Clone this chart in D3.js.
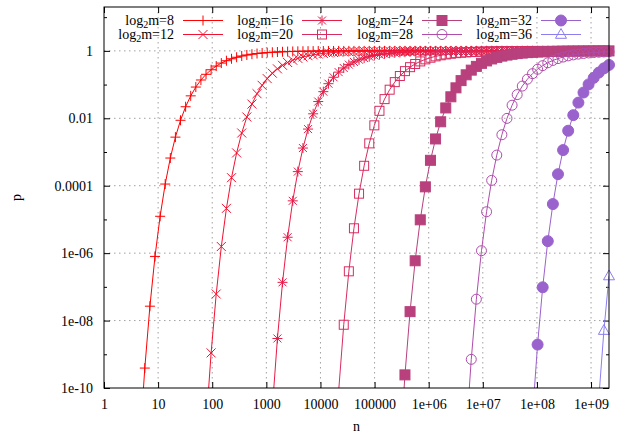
<!DOCTYPE html>
<html>
<head>
<meta charset="utf-8">
<script src="https://cdn.jsdelivr.net/npm/d3@7"></script>
<style>
  body { margin: 0; background: #fff; }
  svg { display: block; }
  svg text { font-family: "Liberation Serif", "Times New Roman", Times, serif; font-size: 14px; fill: #000; }
</style>
</head>
<body>
<svg id="chart" width="635" height="434"></svg>
<script>
// Sample grid of the number of inserted elements, as log2(n)
const log2N = [
  0, 0.3131, 0.6263, 0.9394, 1.2525, 1.5657, 1.8788, 2.1919, 2.5051, 2.8182,
  3.1313, 3.4444, 3.7576, 4.0707, 4.3838, 4.6970, 5.0101, 5.3232, 5.6364, 5.9495,
  6.2626, 6.5758, 6.8889, 7.2020, 7.5152, 7.8283, 8.1414, 8.4545, 8.7677, 9.0808,
  9.3939, 9.7071, 10.0202, 10.3333, 10.6465, 10.9596, 11.2727, 11.5859, 11.8990, 12.2121,
  12.5253, 12.8384, 13.1515, 13.4646, 13.7778, 14.0909, 14.4040, 14.7172, 15.0303, 15.3434,
  15.6566, 15.9697, 16.2828, 16.5960, 16.9091, 17.2222, 17.5354, 17.8485, 18.1616, 18.4747,
  18.7879, 19.1010, 19.4141, 19.7273, 20.0404, 20.3535, 20.6667, 20.9798, 21.2929, 21.6061,
  21.9192, 22.2323, 22.5455, 22.8586, 23.1717, 23.4848, 23.7980, 24.1111, 24.4242, 24.7374,
  25.0505, 25.3636, 25.6768, 25.9899, 26.3030, 26.6162, 26.9293, 27.2424, 27.5556, 27.8687,
  28.1818, 28.4949, 28.8081, 29.1212, 29.4343, 29.7475, 30.0606, 30.3737, 30.6869, 31
];

// Filter sizes (log2 m) and the first grid sample listed for each curve
const bits = [8, 12, 16, 20, 24, 28, 32, 36];
const firstSample = [7, 20, 33, 46, 58, 71, 84, 97];

// False-positive probability p for each filter size, from firstSample onward
const pM8 = [
  2.04e-12, 3.90e-10, 2.67e-8, 8.00e-7, 1.24e-5, 1.12e-4, 6.62e-4, 2.76e-3, 8.72e-3, 0.0220,
  0.0463, 0.0844, 0.1367, 0.2014, 0.2754, 0.3540, 0.4338, 0.5105, 0.5821, 0.6467,
  0.7042, 0.7541, 0.7967, 0.8329, 0.8632, 0.8883, 0.9091, 0.9261, 0.9401, 0.9515,
  0.9608, 0.9683, 0.9744, 0.9794, 0.9833, 0.9866, 0.9892, 0.9913, 0.9930, 0.9943,
  0.9954, 0.9963, 0.9970, 0.9976, 0.9981, 0.9985, 0.9988, 0.9990, 0.9992, 0.9994,
  0.9995, 1, 1, 1, 1, 1, 1, 1, 1, 1,
  1, 1, 1, 1, 1, 1, 1, 1, 1, 1,
  1, 1, 1, 1, 1, 1, 1, 1, 1, 1,
  1, 1, 1, 1, 1, 1, 1, 1, 1, 1,
  1, 1, 1
];
const pM12 = [
  7.36e-12, 1.10e-9, 6.14e-8, 1.57e-6, 2.13e-5, 1.73e-4, 9.40e-4, 3.66e-3, 0.01094, 0.02639,
  0.05365, 0.0949, 0.1503, 0.2176, 0.2929, 0.3722, 0.4513, 0.5270, 0.5973, 0.6604,
  0.7162, 0.7643, 0.8055, 0.8402, 0.8693, 0.8934, 0.9132, 0.9295, 0.9429, 0.9538,
  0.9626, 0.9698, 0.9756, 0.9803, 0.9841, 0.9872, 0.9897, 0.9917, 0.9933, 0.9946,
  0.9957, 0.9965, 0.9972, 0.9977, 0.9982, 0.9985, 0.9988, 0.9990, 0.9992, 0.9994,
  0.9995, 1, 1, 1, 1, 1, 1, 1, 1, 1,
  1, 1, 1, 1, 1, 1, 1, 1, 1, 1,
  1, 1, 1, 1, 1, 1, 1, 1, 1, 1
];
const pM16 = [
  2.51e-11, 2.94e-9, 1.36e-7, 2.96e-6, 3.56e-5, 2.62e-4, 1.31e-3, 4.79e-3, 0.01358, 0.03141,
  0.06171, 0.1062, 0.1646, 0.2340, 0.3106, 0.3903, 0.4689, 0.5435, 0.6121, 0.6737,
  0.7277, 0.7742, 0.8139, 0.8472, 0.8751, 0.8982, 0.9172, 0.9328, 0.9455, 0.9559,
  0.9644, 0.9712, 0.9768, 0.9813, 0.9849, 0.9878, 0.9902, 0.9921, 0.9936, 0.9949,
  0.9959, 0.9967, 0.9973, 0.9978, 0.9983, 0.9986, 0.9989, 0.9991, 0.9993, 0.9994,
  0.9995, 1, 1, 1, 1, 1, 1, 1, 1, 1,
  1, 1, 1, 1, 1, 1, 1
];
const pM20 = [
  8.07e-11, 7.52e-9, 2.89e-7, 5.46e-6, 5.81e-5, 3.90e-4, 1.80e-3, 6.18e-3, 0.01667, 0.03707,
  0.07049, 0.1183, 0.1794, 0.2507, 0.3285, 0.4082, 0.4862, 0.5596, 0.6268, 0.6865,
  0.7388, 0.7838, 0.8219, 0.8541, 0.8808, 0.9028, 0.9210, 0.9359, 0.9481, 0.9580,
  0.9660, 0.9726, 0.9779, 0.9821, 0.9856, 0.9884, 0.9907, 0.9925, 0.9939, 0.9951,
  0.9961, 0.9968, 0.9974, 0.9979, 0.9983, 0.9987, 0.9989, 0.9991, 0.9993, 0.9994,
  0.9996, 0.9997, 0.9997, 0.9998
];
const pM24 = [
  1.15e-12, 2.45e-10, 1.84e-8, 5.94e-7, 9.74e-6, 9.26e-5, 5.67e-4, 2.44e-3, 7.88e-3, 0.02028,
  0.04340, 0.0800, 0.1310, 0.1948, 0.2681, 0.3464, 0.4260, 0.5030, 0.5754, 0.6409,
  0.6990, 0.7496, 0.7930, 0.8297, 0.8605, 0.8861, 0.9072, 0.9246, 0.9389, 0.9505,
  0.9600, 0.9676, 0.9739, 0.9789, 0.9830, 0.9863, 0.9890, 0.9911, 0.9928, 0.9942,
  0.9953, 0.9963
];
const pM28 = [
  4.28e-12, 7.08e-10, 4.31e-8, 1.18e-6, 1.69e-5, 1.44e-4, 8.10e-4, 3.25e-3, 9.94e-3, 0.02443,
  0.05042, 0.09031, 0.1443, 0.2106, 0.2853, 0.3645, 0.4437, 0.5200, 0.5905, 0.6547,
  0.7111, 0.7600, 0.8018, 0.8371, 0.8667, 0.8912, 0.9115, 0.9281, 0.9417
];
const pM32 = [
  1.50e-11, 1.94e-9, 9.71e-8, 2.27e-6, 2.86e-5, 2.20e-4, 1.14e-3, 4.27e-3, 0.01239, 0.02918,
  0.05815, 0.1013, 0.1583, 0.2269, 0.3031, 0.3825
];
const pM36 = [4.93e-11, 5.06e-9, 2.10e-7];

const pSeries = [pM8, pM12, pM16, pM20, pM24, pM28, pM32, pM36];
const colors = ["#ff0000", "#f41030", "#e81c48", "#d82c60", "#b8407c", "#b04cac", "#9a62cc", "#8a7ef0"];
const symbols = ["plus", "cross", "star", "square", "squareFilled", "circle", "circleFilled", "triangle"];

// Axis ticks
const xTickValues = [1, 10, 100, 1000, 1e4, 1e5, 1e6, 1e7, 1e8, 1e9];
const xTickLabels = ["1", "10", "100", "1000", "10000", "100000", "1e+06", "1e+07", "1e+08", "1e+09"];
const yTickValues = [1e-10, 1e-8, 1e-6, 1e-4, 1e-2, 1];
const yTickLabels = ["1e-10", "1e-08", "1e-06", "0.0001", "0.01", "1"];
const yMinorValues = [1e-9, 1e-7, 1e-5, 1e-3, 1e-1, 10];

const FONT = '"Liberation Serif", "Times New Roman", Times, serif';
const plot = { left: 104, right: 609, top: 7, bottom: 388 };

const svg = d3.select("#chart").attr("font-family", FONT);
const x = d3.scaleLog().domain([1, 2 ** 31]).range([plot.left, plot.right]);
const y = d3.scaleLog().domain([1e-10, 20]).range([plot.bottom, plot.top]);

// Dotted grid at the labelled ticks
const grid = svg.append("g").attr("stroke", "#a0a0a0").attr("stroke-width", 1)
  .attr("stroke-dasharray", "1.5,3.5");
xTickValues.slice(1).forEach(v => {
  grid.append("line").attr("x1", x(v)).attr("x2", x(v))
    .attr("y1", plot.top).attr("y2", plot.bottom);
});
yTickValues.slice(1).forEach(v => {
  grid.append("line").attr("x1", plot.left).attr("x2", plot.right)
    .attr("y1", y(v)).attr("y2", y(v));
});

// Axes with inward ticks on all four sides
function styleAxis(g) {
  g.attr("font-family", FONT).attr("font-size", 14);
  g.select(".domain").remove();
  g.selectAll(".tick line").attr("stroke", "#000");
  g.selectAll("text").style("font-family", FONT).style("font-size", "14px");
}
const xLabel = d => xTickLabels[xTickValues.indexOf(d)];
const yLabel = d => yTickLabels[yTickValues.indexOf(d)];

svg.append("g").attr("transform", `translate(0,${plot.bottom})`)
  .call(d3.axisBottom(x).tickValues(xTickValues).tickFormat(xLabel).tickSize(-6).tickPadding(11))
  .call(styleAxis);
svg.append("g").attr("transform", `translate(0,${plot.top})`)
  .call(d3.axisTop(x).tickValues(xTickValues).tickFormat("").tickSize(-6))
  .call(styleAxis);
svg.append("g").attr("transform", `translate(${plot.left},0)`)
  .call(d3.axisLeft(y).tickValues(yTickValues).tickFormat(yLabel).tickSize(-6).tickPadding(11))
  .call(styleAxis);
svg.append("g").attr("transform", `translate(${plot.right},0)`)
  .call(d3.axisRight(y).tickValues(yTickValues).tickFormat("").tickSize(-6))
  .call(styleAxis);
svg.append("g").attr("transform", `translate(${plot.left},0)`)
  .call(d3.axisLeft(y).tickValues(yMinorValues).tickFormat("").tickSize(-3))
  .call(styleAxis);
svg.append("g").attr("transform", `translate(${plot.right},0)`)
  .call(d3.axisRight(y).tickValues(yMinorValues).tickFormat("").tickSize(-3))
  .call(styleAxis);

// Axis titles
svg.append("text").attr("x", (plot.left + plot.right) / 2).attr("y", 431)
  .attr("text-anchor", "middle").text("n");
svg.append("text").attr("transform", `translate(21,${(plot.top + plot.bottom) / 2}) rotate(-90)`)
  .attr("text-anchor", "middle").text("p");

// Point symbols
function drawSymbol(g, type, cx, cy, color) {
  const s = g.append("g").attr("transform", `translate(${cx},${cy})`);
  switch (type) {
    case "plus":
      s.append("path").attr("d", "M-5,0H5M0,-5V5").attr("stroke", color).attr("fill", "none");
      break;
    case "cross":
      s.append("path").attr("d", "M-4.5,-4.5L4.5,4.5M-4.5,4.5L4.5,-4.5").attr("stroke", color).attr("fill", "none");
      break;
    case "star":
      s.append("path").attr("d", "M-5,0H5M0,-5V5M-4,-4L4,4M-4,4L4,-4").attr("stroke", color).attr("fill", "none");
      break;
    case "square":
      s.append("rect").attr("x", -4.5).attr("y", -4.5).attr("width", 9).attr("height", 9)
        .attr("stroke", color).attr("fill", "none");
      break;
    case "squareFilled":
      s.append("rect").attr("x", -5).attr("y", -5).attr("width", 10).attr("height", 10)
        .attr("stroke", color).attr("fill", color);
      break;
    case "circle":
      s.append("circle").attr("r", 5).attr("stroke", color).attr("fill", "none");
      break;
    case "circleFilled":
      s.append("circle").attr("r", 5.5).attr("stroke", color).attr("fill", color);
      break;
    case "triangle":
      s.append("path").attr("d", "M0,-6L5.5,3.8H-5.5Z").attr("stroke", color).attr("fill", "none");
      break;
  }
}

// Curves, clipped to the plot frame; symbols only for in-range samples
svg.append("defs").append("clipPath").attr("id", "plotClip")
  .append("rect").attr("x", plot.left).attr("y", plot.top)
  .attr("width", plot.right - plot.left).attr("height", plot.bottom - plot.top);

const line = d3.line().x(d => x(d.n)).y(d => y(d.p));
const curves = svg.append("g");
bits.forEach((b, k) => {
  const pts = pSeries[k].map((p, j) => ({ n: 2 ** log2N[firstSample[k] + j], p }));
  const color = colors[k];
  curves.append("path").datum(pts).attr("d", line)
    .attr("clip-path", "url(#plotClip)")
    .attr("fill", "none").attr("stroke", color).attr("stroke-width", 1);
  const marks = curves.append("g").attr("stroke-width", 1);
  pts.filter(d => d.p >= 1e-10).forEach(d => drawSymbol(marks, symbols[k], x(d.n), y(d.p), color));
});

// Border
svg.append("rect").attr("x", plot.left).attr("y", plot.top)
  .attr("width", plot.right - plot.left).attr("height", plot.bottom - plot.top)
  .attr("fill", "none").attr("stroke", "#000").attr("stroke-width", 1);

// Legend: two rows, four columns
const legendTextEnd = [174, 293, 413, 532];
const legendRowY = [20.5, 34.5];
const legend = svg.append("g");
bits.forEach((b, k) => {
  const col = Math.floor(k / 2), row = k % 2;
  const tx = legendTextEnd[col], ly = legendRowY[row];
  const t = legend.append("text").attr("x", tx).attr("y", ly + 4.5).attr("text-anchor", "end");
  t.append("tspan").text("log");
  t.append("tspan").attr("dy", 3).style("font-size", "10px").text("2");
  t.append("tspan").attr("dy", -3).text("m=" + b);
  legend.append("line").attr("x1", tx + 9).attr("x2", tx + 49).attr("y1", ly).attr("y2", ly)
    .attr("stroke", colors[k]).attr("stroke-width", 1);
  drawSymbol(legend, symbols[k], tx + 29, ly, colors[k]);
});
</script>
</body>
</html>
